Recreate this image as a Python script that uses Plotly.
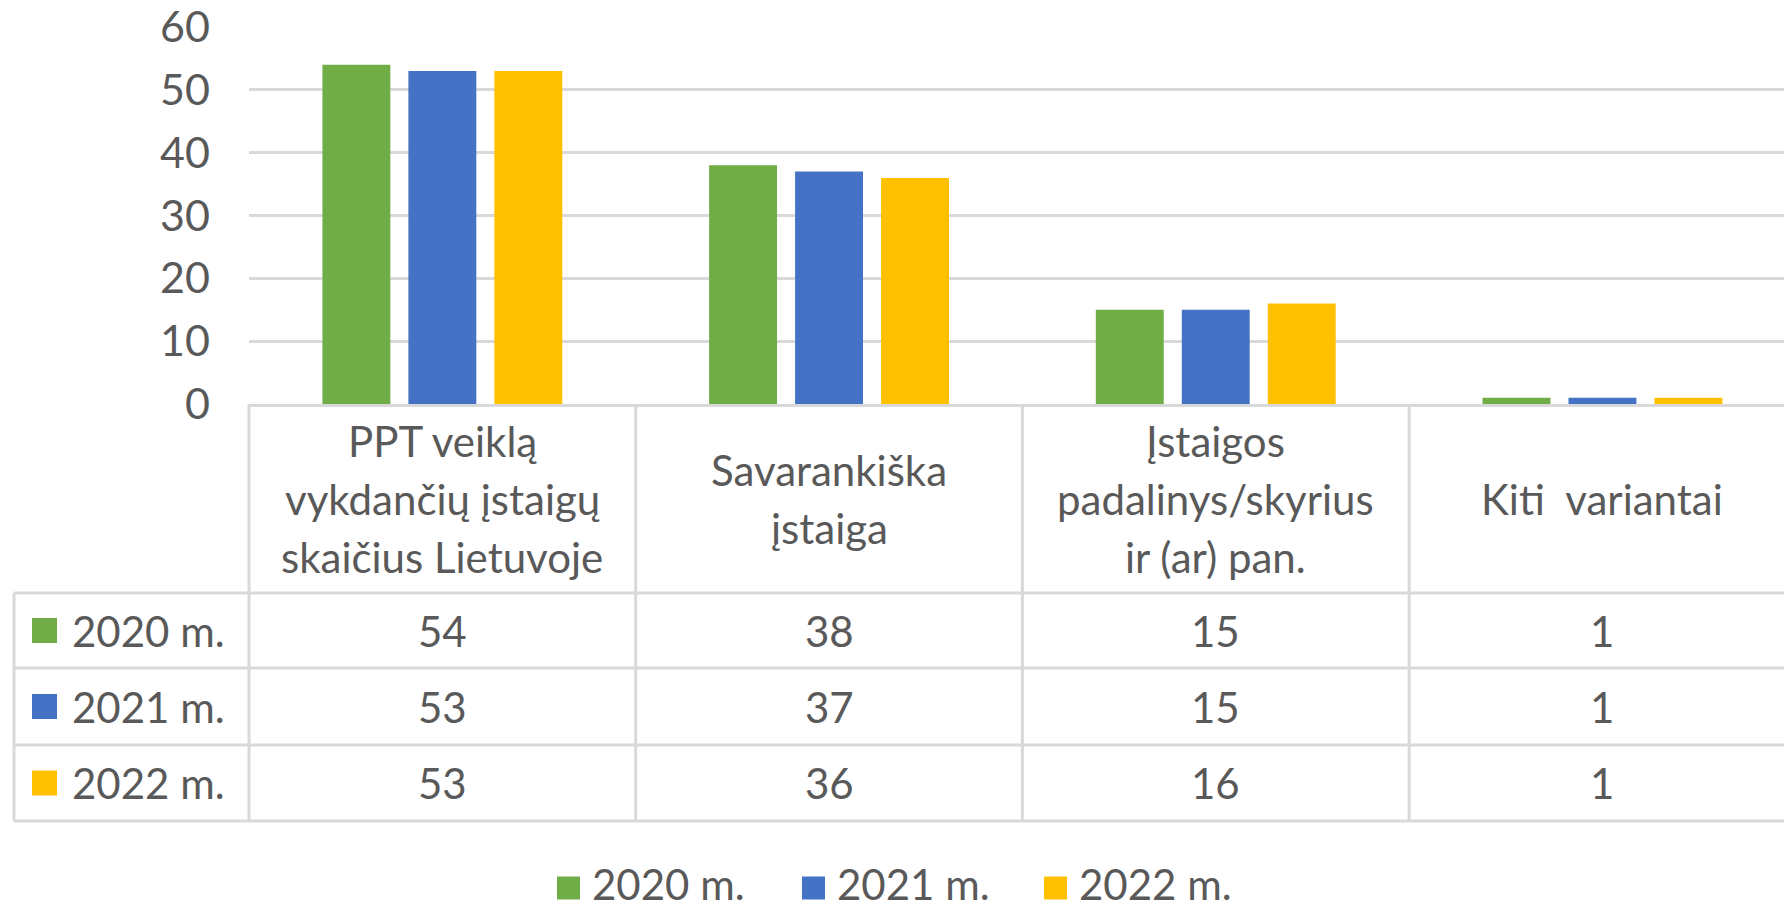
import plotly.graph_objects as go

# ---------------- data ----------------
categories = [
    "PPT veiklą<br>vykdančių įstaigų<br>skaičius Lietuvoje",
    "Savarankiška<br>įstaiga",
    "Įstaigos<br>padalinys/skyrius<br>ir (ar) pan.",
    "Kiti&nbsp; variantai",
]
series_names = ["2020 m.", "2021 m.", "2022 m."]
values_2020 = [54, 38, 15, 1]
values_2021 = [53, 37, 15, 1]
values_2022 = [53, 36, 16, 1]
y_ticks = [0, 10, 20, 30, 40, 50, 60]
colors = ["#70AD47", "#4472C4", "#FFC000"]
series_values = [values_2020, values_2021, values_2022]

# ---------------- layout geometry (pixels) ----------------
W, H = 1784, 910
PLOT_L, PLOT_T, PLOT_B = 249, 27, 404
plot_w = W - PLOT_L
plot_h = PLOT_B - PLOT_T
COL_W = 386.7
x_range = [-0.5, -0.5 + plot_w / COL_W]

FONT = "Lato, 'Open Sans', sans-serif"
FS = 42
TXT = "#595959"
LINE = "#D9D9D9"
LW = 3
LINE_H = 58  # header text line spacing in px


def px_x(p):
    return (p - PLOT_L) / plot_w


def px_y(p):
    return (PLOT_B - p) / plot_h


def cat_to_paper(v):
    return (v - x_range[0]) / (x_range[1] - x_range[0])


fig = go.Figure()
for name, vals, col in zip(series_names, series_values, colors):
    fig.add_trace(go.Bar(x=categories, y=vals, name=name, marker_color=col,
                         marker_line_width=0, showlegend=False))

shapes = []
annotations = []

# table row geometry
header_bottom = 593
row_edges = [593, 668, 745, 821]
table_left = 14

# horizontal table lines
for yb in row_edges:
    shapes.append(dict(type="line", xref="paper", yref="paper",
                       x0=px_x(table_left), x1=1, y0=px_y(yb), y1=px_y(yb),
                       line=dict(color=LINE, width=LW)))
# vertical table lines
shapes.append(dict(type="line", xref="paper", yref="paper",
                   x0=px_x(table_left), x1=px_x(table_left),
                   y0=px_y(header_bottom), y1=px_y(row_edges[-1]),
                   line=dict(color=LINE, width=LW)))
for i in range(len(categories)):
    xb = cat_to_paper(i - 0.5)
    shapes.append(dict(type="line", xref="paper", yref="paper",
                       x0=xb, x1=xb, y0=px_y(PLOT_B), y1=px_y(row_edges[-1]),
                       line=dict(color=LINE, width=LW)))

# header (category labels), one annotation per text line for Excel-like spacing
header_center = (PLOT_B + header_bottom) / 2
for c in categories:
    lines = c.split("<br>")
    n = len(lines)
    for k, ln in enumerate(lines):
        yc = header_center + (k - (n - 1) / 2) * LINE_H
        annotations.append(dict(x=c, xref="x", y=px_y(yc), yref="paper",
                                text=ln, showarrow=False, xanchor="center",
                                yanchor="middle",
                                font=dict(family=FONT, size=FS, color=TXT)))

# table rows
for r, (name, vals, col) in enumerate(zip(series_names, series_values, colors)):
    yc = (row_edges[r] + row_edges[r + 1]) / 2
    half = 12.5
    shapes.append(dict(type="rect", xref="paper", yref="paper",
                       x0=px_x(32), x1=px_x(57), y0=px_y(yc - half), y1=px_y(yc + half),
                       fillcolor=col, line=dict(width=0)))
    annotations.append(dict(x=px_x(70), xref="paper", y=px_y(yc), yref="paper",
                            text=name, showarrow=False, xanchor="left", yanchor="middle",
                            font=dict(family=FONT, size=FS, color=TXT)))
    for c, v in zip(categories, vals):
        annotations.append(dict(x=c, xref="x", y=px_y(yc), yref="paper",
                                text=str(v), showarrow=False, xanchor="center",
                                yanchor="middle",
                                font=dict(family=FONT, size=FS, color=TXT)))

# bottom legend
legend_y = 884
legend_sq_x = [557, 802, 1044]
for name, col, sx in zip(series_names, colors, legend_sq_x):
    shapes.append(dict(type="rect", xref="paper", yref="paper",
                       x0=px_x(sx), x1=px_x(sx + 23), y0=px_y(legend_y + 4 - 11.5),
                       y1=px_y(legend_y + 4 + 11.5), fillcolor=col, line=dict(width=0)))
    annotations.append(dict(x=px_x(sx + 34), xref="paper", y=px_y(legend_y), yref="paper",
                            text=name, showarrow=False, xanchor="left", yanchor="middle",
                            borderpad=0,
                            font=dict(family=FONT, size=FS, color=TXT)))

fig.update_layout(
    width=W, height=H,
    margin=dict(l=PLOT_L, r=0, t=PLOT_T, b=H - PLOT_B, pad=0),
    paper_bgcolor="white", plot_bgcolor="white",
    barmode="group", bargap=0.333, bargroupgap=0.21,
    showlegend=False,
    font=dict(family=FONT, size=FS, color=TXT),
    xaxis=dict(type="category", range=x_range, showticklabels=False, ticks="",
               showgrid=False, showline=True, linecolor=LINE, linewidth=LW,
               zeroline=False, fixedrange=True),
    yaxis=dict(range=[0, 60.02], tickvals=y_ticks, ticks="", showgrid=True,
               gridcolor=LINE, gridwidth=LW, zeroline=False, showline=False,
               ticklabelstandoff=38, ticklabeloverflow="allow",
               tickfont=dict(family=FONT, size=43, color=TXT), fixedrange=True),
    shapes=shapes,
    annotations=annotations,
)

fig.write_html(
    "out.html",
    config={"displayModeBar": False},
    post_script="document.body.style.margin='0';document.body.style.overflow='hidden';",
)
